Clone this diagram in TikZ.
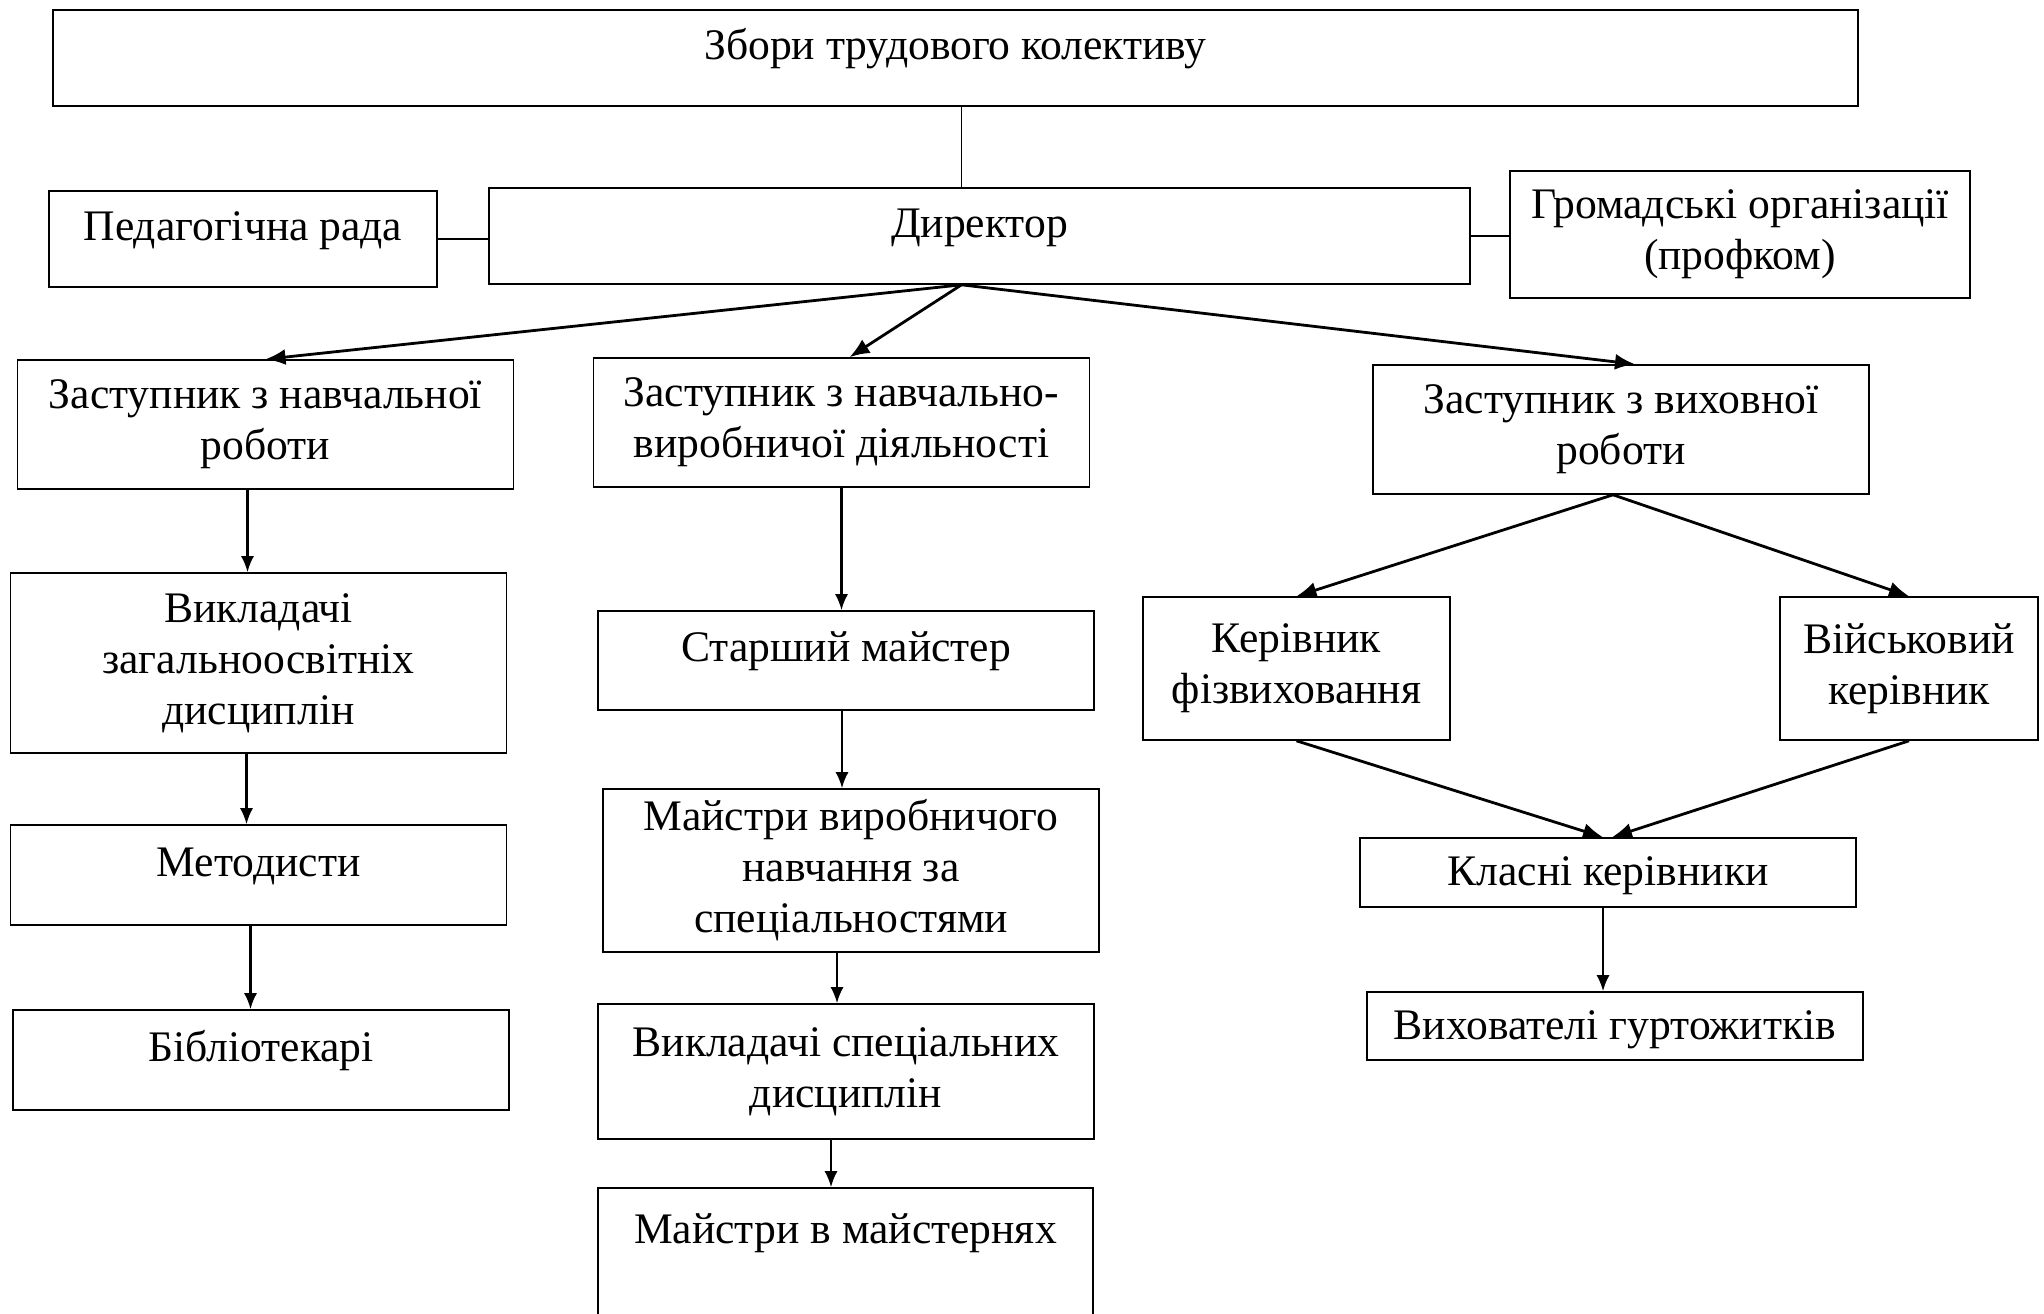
\documentclass[tikz,border=0pt]{standalone}
\usepackage{fontspec}
\setmainfont{Liberation Serif}
\usepackage{tikz}
\usetikzlibrary{calc}
\usetikzlibrary{arrows.meta}
\usetikzlibrary{positioning}

\begin{document}
\begin{tikzpicture}[x=0.5pt, y=-0.5pt,
  box/.style={rectangle, draw=black, line width=0.8pt, align=center, inner sep=0pt,
    font=\fontsize{21.8}{25.5}\selectfont},
  single/.style={text height=17.6pt, text depth=4.4pt},
  raised/.style={text height=17.6pt, text depth=16.5pt},
  link/.style={draw=black, line width=0.6pt},
  arr/.style={-{Latex[length=8pt,width=6.5pt]}, draw=black, line width=1.1pt},
  darr/.style={-{Latex[length=10pt,width=8pt]}, draw=black, line width=1.4pt}]
 \clip (0,0) rectangle (2044,1313);
 % top level
 \node [box, raised, minimum width=902.5pt, minimum height=48pt] (zbory) at (955.5,58) {Збори трудового колективу};
 \node [box, raised, minimum width=194pt, minimum height=48pt] (pedrada) at (243,239) {Педагогічна рада};
 \node [box, raised, minimum width=490.5pt, minimum height=48pt] (director) at (979.5,236) {Директор};
 \node [box, minimum width=230pt, minimum height=63.5pt] (gromad) at (1740,234.5) {Громадські організації\\(профком)};
 % deputies
 \node [box, minimum width=248pt, minimum height=64.5pt] (zn) at (265.5,424.5) {Заступник з навчальної\\роботи};
 \node [box, minimum width=248pt, minimum height=64.5pt] (znv) at (841.5,422.5) {Заступник з навчально-\\виробничої діяльності};
 \node [box, minimum width=248pt, minimum height=64.5pt] (zv) at (1621,429.5) {Заступник з виховної\\роботи};
 % left column
 \node [box, minimum width=248pt, minimum height=90pt] (vz) at (258.5,663) {Викладачі\\загальноосвітніх\\дисциплін};
 \node [box, raised, minimum width=248pt, minimum height=50pt] (met) at (258.5,875) {Методисти};
 \node [box, raised, minimum width=248pt, minimum height=50pt] (bib) at (261,1060) {Бібліотекарі};
 % middle column
 \node [box, raised, minimum width=248pt, minimum height=49.5pt] (stm) at (846,660.5) {Старший майстер};
 \node [box, minimum width=248pt, minimum height=81.5pt] (mvn) at (851,870.5) {Майстри виробничого\\навчання за\\спеціальностями};
 \node [box, minimum width=248pt, minimum height=67.5pt] (vs) at (846,1071.5) {Викладачі спеціальних\\дисциплін};
 \node [box, raised, text depth=33.4pt, minimum width=247.5pt, minimum height=71pt] (mm) at (845.5,1259) {Майстри в майстернях};
 % right column
 \node [box, minimum width=153.5pt, minimum height=71.5pt] (kf) at (1296.5,668.5) {Керівник\\фізвиховання};
 \node [box, minimum width=129pt, minimum height=71.5pt] (vk) at (1909,668.5) {Військовий\\керівник};
 \node [box, single, minimum width=248pt, minimum height=34.5pt] (kk) at (1608,872.5) {Класні керівники};
 \node [box, single, minimum width=248pt, minimum height=34pt] (vg) at (1615,1026) {Вихователі гуртожитків};

 \coordinate (fork) at ([xshift=-9pt]director.south);
 \draw [link] (zbory.south -| fork) -- (fork |- director.north);
 \draw [link] (pedrada.east) -- (pedrada.east -| director.west);
 \draw [link] (director.east) -- (director.east -| gromad.west);
 \draw [darr] (fork) -- (zn.north);
 \draw [darr] (fork) -- ([xshift=4pt]znv.north);
 \draw [darr] (fork) -- ([xshift=7pt]zv.north);
 \draw [arr] ([xshift=-9pt]zn.south) -- ([xshift=-9pt]zn.south |- vz.north);
 \draw [arr] ([xshift=-6pt]vz.south) -- ([xshift=-6pt]vz.south |- met.north);
 \draw [arr] ([xshift=-4pt]met.south) -- ([xshift=-4pt]met.south |- bib.north);
 \draw [arr] (znv.south) -- (znv.south |- stm.north);
 \draw [arr] ([xshift=-2pt]stm.south) -- ([xshift=-2pt]stm.south |- mvn.north);
 \draw [arr] ([xshift=-7pt]mvn.south) -- ([xshift=-7pt]mvn.south |- vs.north);
 \draw [arr] ([xshift=-7.5pt]vs.south) -- ([xshift=-7.5pt]vs.south |- mm.north);
 \draw [darr] ([xshift=-4pt]zv.south) -- (kf.north);
 \draw [darr] ([xshift=-4pt]zv.south) -- (vk.north);
 \draw [darr] (kf.south) -- ([xshift=-2.5pt]kk.north);
 \draw [darr] (vk.south) -- ([xshift=2pt]kk.north);
 \draw [arr] ([xshift=-2.5pt]kk.south) -- ([xshift=-2.5pt]kk.south |- vg.north);
\end{tikzpicture}
\end{document}
